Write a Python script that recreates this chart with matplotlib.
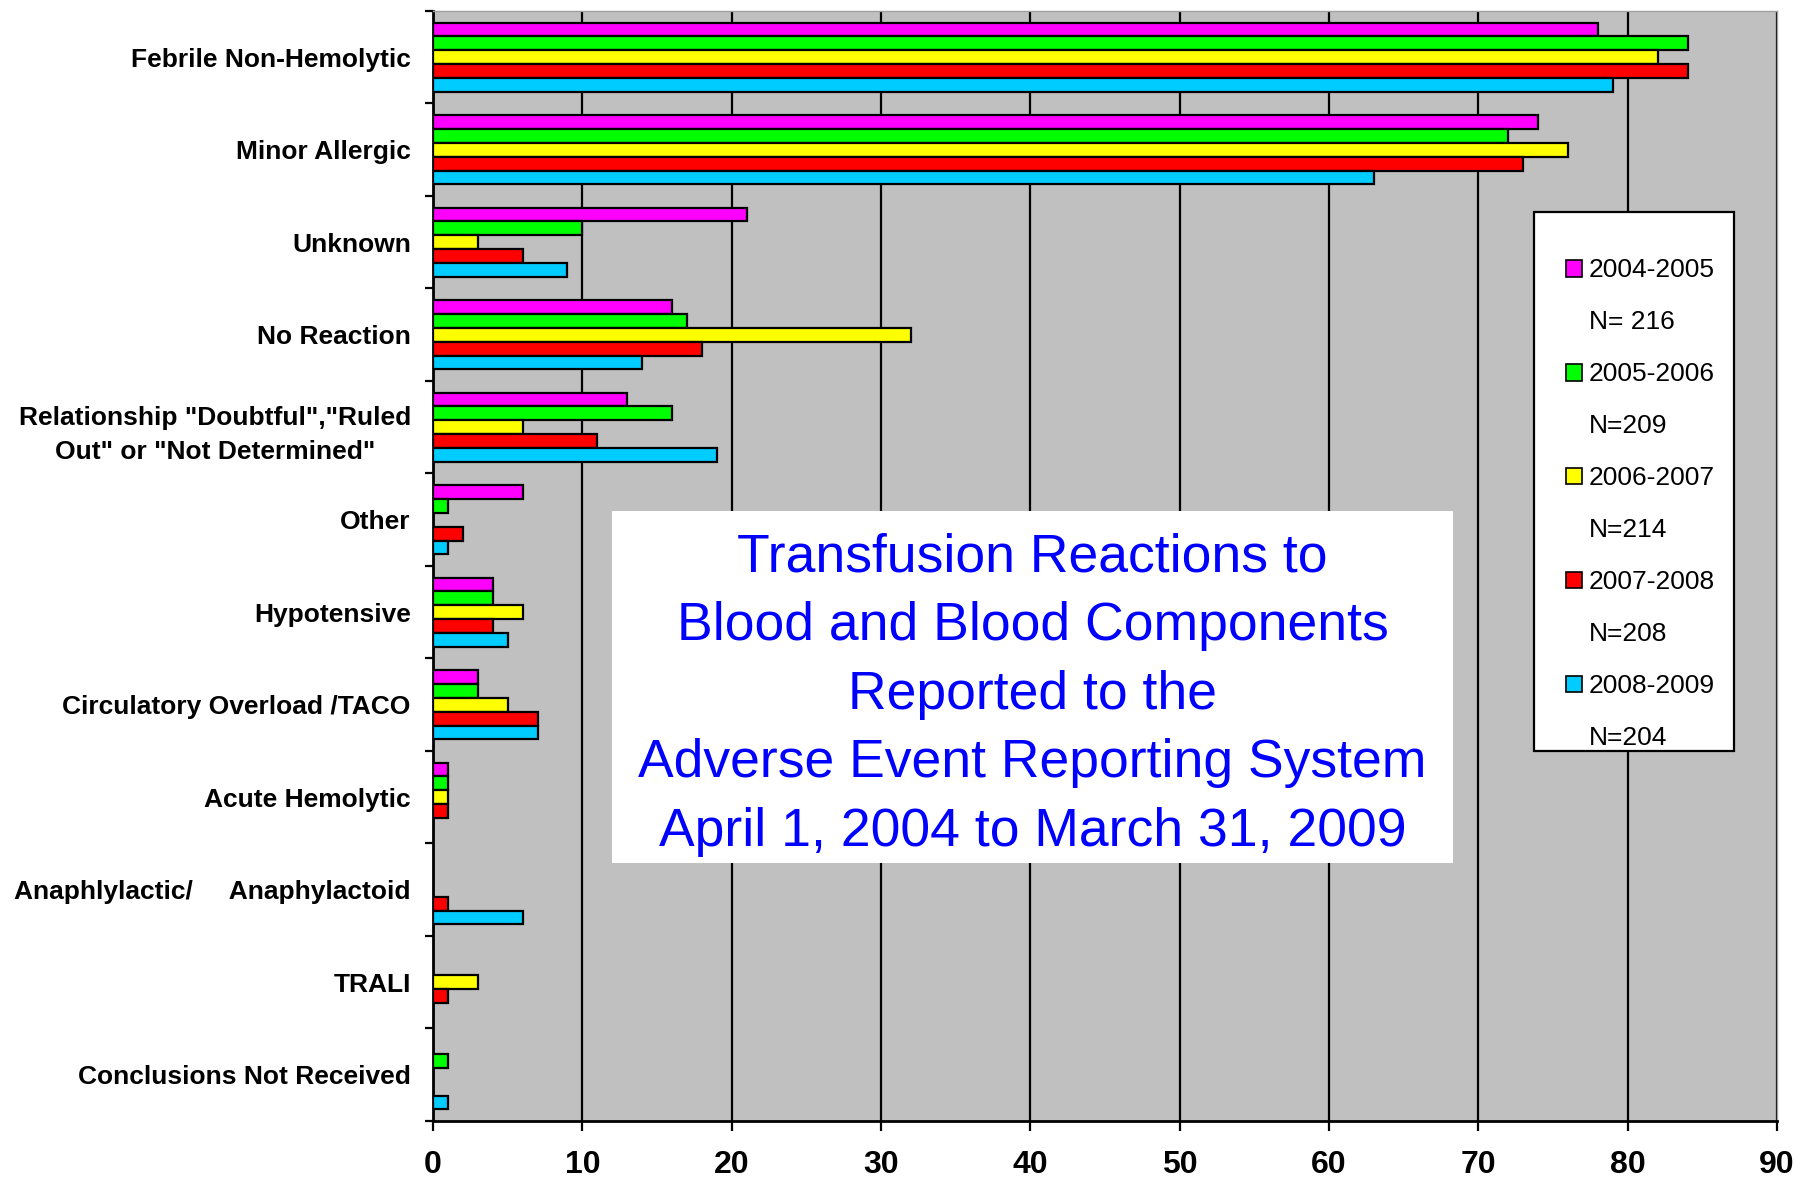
import numpy as np
import matplotlib.pyplot as plt
from matplotlib.patches import Patch, Rectangle
from matplotlib.ticker import FixedLocator

categories = [
    "Febrile Non-Hemolytic",
    "Minor Allergic",
    "Unknown",
    "No Reaction",
    "Relationship \"Doubtful\",\"Ruled\nOut\" or \"Not Determined\"",
    "Other",
    "Hypotensive",
    "Circulatory Overload /TACO",
    "Acute Hemolytic",
    "Anaphlylactic/     Anaphylactoid",
    "TRALI",
    "Conclusions Not Received",
]
years = ["2004-2005", "2005-2006", "2006-2007", "2007-2008", "2008-2009"]
n_counts = ["N= 216", "N=209", "N=214", "N=208", "N=204"]

v_2004 = [78, 74, 21, 16, 13, 6, 4, 3, 1, 0, 0, 0]
v_2005 = [84, 72, 10, 17, 16, 1, 4, 3, 1, 0, 0, 1]
v_2006 = [82, 76, 3, 32, 6, 0, 6, 5, 1, 0, 3, 0]
v_2007 = [84, 73, 6, 18, 11, 2, 4, 7, 1, 1, 1, 0]
v_2008 = [79, 63, 9, 14, 19, 1, 5, 7, 0, 6, 0, 1]
series = [v_2004, v_2005, v_2006, v_2007, v_2008]

colors = ["#FF00FF", "#00FF00", "#FFFF00", "#FF0000", "#00CCFF"]

title_text = ("Transfusion Reactions to\nBlood and Blood Components\n"
              "Reported to the\nAdverse Event Reporting System\n"
              "April 1, 2004 to March 31, 2009")

sans = ["Liberation Sans", "DejaVu Sans"]

fig = plt.figure(figsize=(17.94, 11.78), dpi=100)
ax = fig.add_axes([0.2414, 0.0484, 0.7492, 0.9423])
ax.set_facecolor("#C0C0C0")

y = np.arange(len(categories))
h = 0.15
for j, vals in enumerate(series):
    ax.barh(y + (j - 2) * h, vals, height=h, color=colors[j],
            edgecolor="black", linewidth=1.6, zorder=3)

ax.set_xlim(0, 90)
ax.set_ylim(len(categories) - 0.5, -0.5)
ax.set_xticks(np.arange(0, 91, 10))
ax.set_yticks(y)
ax.set_yticklabels(categories, fontfamily=sans, fontweight="bold",
                   fontsize=19, multialignment="center")
for lbl in ax.get_yticklabels():
    lbl.set_linespacing(1.55)
ax.yaxis.set_minor_locator(FixedLocator(np.arange(-0.5, len(categories), 1)))
ax.tick_params(axis="y", which="major", length=0, pad=16)
ax.tick_params(axis="y", which="minor", length=6, width=1.6, direction="out")
ax.tick_params(axis="x", length=7, width=1.6, direction="out", pad=14)
for lbl in ax.get_xticklabels():
    lbl.set_fontfamily(sans)
    lbl.set_fontweight("bold")
    lbl.set_fontsize(23)

ax.grid(axis="x", color="black", linewidth=1.6, zorder=1)
ax.set_axisbelow(True)
for s in ["top", "right"]:
    ax.spines[s].set_color("#A0A0A0")
    ax.spines[s].set_linewidth(1)
for s in ["left", "bottom"]:
    ax.spines[s].set_linewidth(2)

# title box
ax.add_patch(Rectangle((12, 4.905), 56.3, 3.805, facecolor="white",
                       edgecolor="none", zorder=4))
ax.text(40.15, 6.89, title_text, ha="center", va="center", color="#0000FF",
        fontsize=38.5, fontfamily=sans, linespacing=1.48, zorder=5)

# legend box
ax.add_patch(Rectangle((0.819, 0.3333), 0.149, 0.4856, transform=ax.transAxes,
                       facecolor="white", edgecolor="black", linewidth=1.6,
                       zorder=6))
handles, labels = [], []
for j in range(len(years)):
    handles.append(Patch(facecolor=colors[j], edgecolor="black", linewidth=1.2))
    labels.append(years[j])
    handles.append(Patch(visible=False))
    labels.append(n_counts[j])
leg = ax.legend(handles, labels, loc="upper left",
                bbox_to_anchor=(0.843, 0.777), frameon=False,
                prop={"family": sans, "size": 19},
                handlelength=0.6, handleheight=0.6, handletextpad=0.25,
                labelspacing=1.06, borderpad=0, borderaxespad=0)
leg.set_zorder(7)

plt.savefig("out.png", dpi=100)
